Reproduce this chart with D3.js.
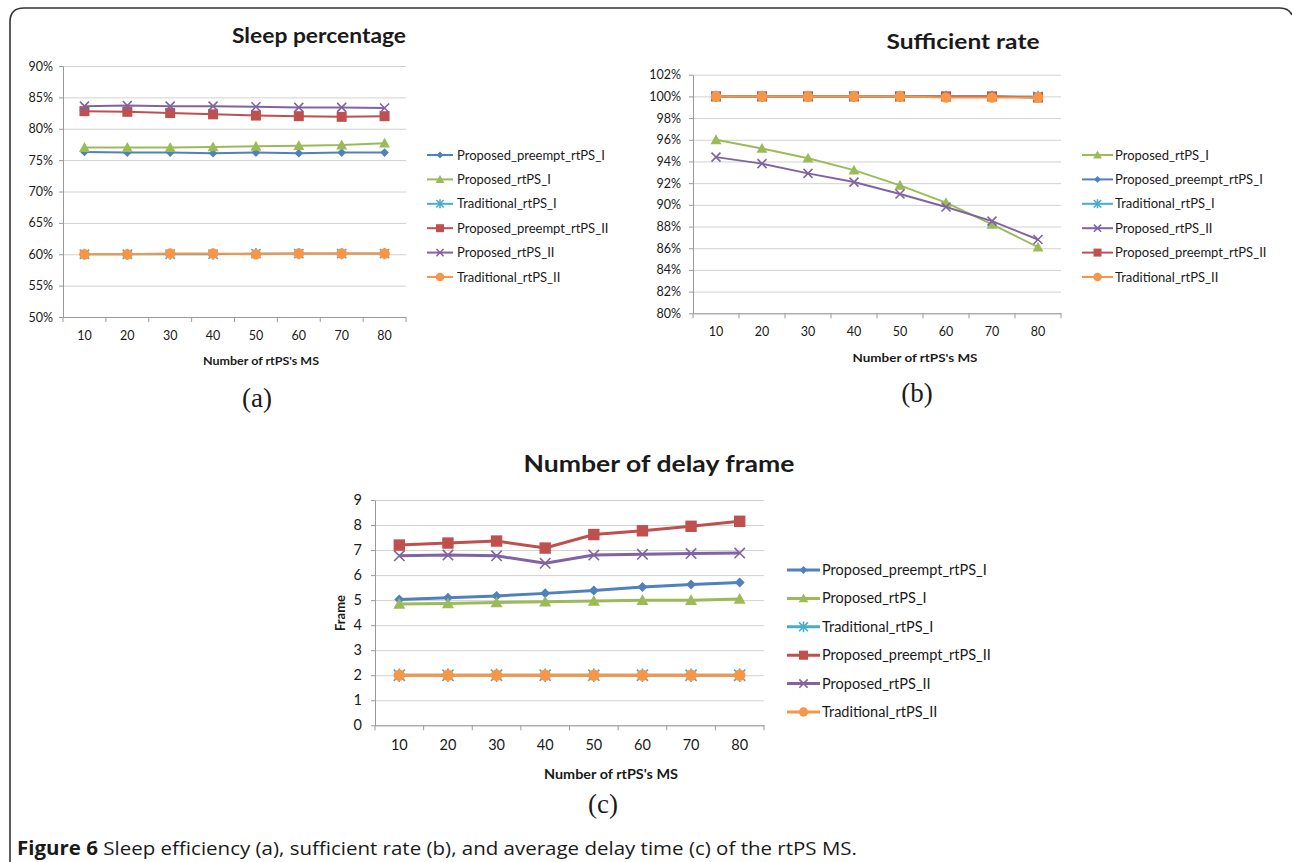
<!DOCTYPE html>
<meta charset="utf-8">
<style>
body {
	margin: 0;
	padding: 0;
	background: #fff;
}
svg {
	display: block;
}
text {
	font-family: Lato, "Open Sans", sans-serif;
	fill: #1a1a1a;
}
.grid line {
	stroke: #d2d2d2;
}
.grid .domain {
	display: none;
}
.title, .axis-title {
	font-weight: bold;
}
.panel-label {
	font-family: "Liberation Serif", "DejaVu Serif", serif;
}
.caption {
	font-family: "Open Sans", Lato, sans-serif;
}
</style>
<body>
<svg id="fig" width="1292" height="862"></svg>
<script src="https://cdn.jsdelivr.net/npm/d3@7/dist/d3.min.js"></script>
<script>
// categories (number of rtPS MS)
var cats = [10, 20, 30, 40, 50, 60, 70, 80];

// (a) sleep percentage, in %
var sleepPreemptI  = [76.3, 76.2, 76.2, 76.1, 76.2, 76.1, 76.2, 76.2];
var sleepPropI     = [77.0, 77.0, 77.0, 77.1, 77.2, 77.3, 77.4, 77.7];
var sleepTradI     = [60.0, 60.0, 60.0, 60.0, 60.1, 60.1, 60.1, 60.1];
var sleepPreemptII = [82.8, 82.7, 82.5, 82.3, 82.1, 82.0, 81.9, 82.0];
var sleepPropII    = [83.6, 83.7, 83.6, 83.6, 83.5, 83.4, 83.4, 83.3];
var sleepTradII    = [60.0, 60.0, 60.1, 60.1, 60.0, 60.1, 60.1, 60.1];
var sleepTicks = [50, 55, 60, 65, 70, 75, 80, 85, 90];

// (b) sufficient rate, in %
var suffPropI     = [96.0, 95.2, 94.3, 93.2, 91.8, 90.2, 88.2, 86.1];
var suffPreemptI  = [100, 100, 100, 100, 100, 100, 100, 99.9];
var suffTradI     = [100, 100, 100, 100, 100, 100, 100, 100];
var suffPropII    = [94.4, 93.8, 92.9, 92.1, 91.0, 89.8, 88.5, 86.8];
var suffPreemptII = [100, 100, 100, 100, 100, 100, 100, 99.9];
var suffTradII    = [100, 100, 100, 100, 100, 99.9, 99.9, 99.9];
var suffTicks = [80, 82, 84, 86, 88, 90, 92, 94, 96, 98, 100, 102];

// (c) number of delay frame
var delayPreemptI  = [5.03, 5.1, 5.17, 5.27, 5.38, 5.52, 5.62, 5.7];
var delayPropI     = [4.85, 4.87, 4.91, 4.94, 4.97, 5.0, 5.0, 5.05];
var delayTradI     = [2, 2, 2, 2, 2, 2, 2, 2];
var delayPreemptII = [7.2, 7.28, 7.36, 7.08, 7.62, 7.77, 7.95, 8.15];
var delayPropII    = [6.77, 6.8, 6.77, 6.47, 6.8, 6.83, 6.86, 6.88];
var delayTradII    = [2, 2, 2, 2, 2, 2, 2, 2];
var delayTicks = [0, 1, 2, 3, 4, 5, 6, 7, 8, 9];

var styles = {
	"Proposed_preempt_rtPS_I":  {color: "#4F81BD", marker: "diamond"},
	"Proposed_rtPS_I":          {color: "#9BBB59", marker: "triangle"},
	"Traditional_rtPS_I":       {color: "#4BACC6", marker: "asterisk"},
	"Proposed_preempt_rtPS_II": {color: "#C0504D", marker: "square"},
	"Proposed_rtPS_II":         {color: "#8064A2", marker: "x"},
	"Traditional_rtPS_II":      {color: "#F79646", marker: "circle"}
};

var svg = d3.select("#fig");

svg.append("rect").attr("width", 1292).attr("height", 862).attr("fill", "#fff");

// frame round the figure
svg.append("path")
	.attr("d", "M10,862 V22 Q10,8 24,8 H1280 Q1289,8 1292,15")
	.attr("fill", "none")
	.attr("stroke", "#333")
	.attr("stroke-width", 1.6);

// marker path of half size r
function markerPath(type, r) {
	switch (type) {
		case "diamond": return "M0," + (-r) + "L" + r + ",0L0," + r + "L" + (-r) + ",0Z";
		case "triangle": return "M0," + (-r) + "L" + r + "," + (r * 0.8) + "L" + (-r) + "," + (r * 0.8) + "Z";
		case "square": return "M" + (-r) + "," + (-r) + "h" + (2 * r) + "v" + (2 * r) + "h" + (-2 * r) + "Z";
		case "circle": return "M" + r + ",0A" + r + "," + r + " 0 1,1 " + (-r) + ",0A" + r + "," + r + " 0 1,1 " + r + ",0Z";
		case "x": return "M" + (-r) + "," + (-r) + "L" + r + "," + r + "M" + r + "," + (-r) + "L" + (-r) + "," + r;
		case "asterisk": return "M" + (-r) + "," + (-r) + "L" + r + "," + r + "M" + r + "," + (-r) + "L" + (-r) + "," + r + "M0," + (-r * 1.2) + "L0," + (r * 1.2);
	}
}

function addMarker(sel, type, color, r) {
	var stroked = (type === "x" || type === "asterisk");
	return sel.append("path")
		.attr("d", markerPath(type, stroked ? r * 0.9 : r))
		.attr("fill", stroked ? "none" : color)
		.attr("stroke", stroked ? color : "none")
		.attr("stroke-width", stroked ? 1.6 : 0);
}

function drawChart(c) {
	var g = svg.append("g");

	var x = d3.scaleBand().domain(cats).range([c.left, c.right]);
	var y = d3.scaleLinear().domain([c.ticks[0], c.ticks[c.ticks.length - 1]]).range([c.bottom, c.top]);
	var cx = function(d, i) { return x(cats[i]) + x.bandwidth() / 2; };

	// gridlines
	g.append("g")
		.attr("class", "grid")
		.attr("transform", "translate(" + c.left + ",0)")
		.call(d3.axisLeft(y).tickValues(c.ticks).tickSize(-(c.right - c.left)).tickFormat(""));

	// y axis
	var ya = g.append("g")
		.attr("transform", "translate(" + c.left + ",0)")
		.call(d3.axisLeft(y).tickValues(c.ticks).tickSize(4).tickPadding(c.yPad).tickFormat(c.fmt).tickSizeOuter(0));
	ya.selectAll("line, .domain").attr("stroke", "#9a9a9a");
	ya.selectAll("text").attr("font-family", null).attr("font-size", c.tickFs).attr("fill", "#1a1a1a");

	// x axis
	var xa = g.append("g")
		.attr("transform", "translate(0," + c.bottom + ")")
		.call(d3.axisBottom(x).tickSize(0).tickPadding(c.xPad).tickSizeOuter(0));
	xa.select(".domain").attr("stroke", "#9a9a9a");
	xa.selectAll("text").attr("font-family", null).attr("font-size", c.tickFs).attr("fill", "#1a1a1a");
	// Excel style ticks between categories
	xa.selectAll(".sep")
		.data(cats.map(function(d) { return x(d); }).concat([c.right]))
		.enter().append("line")
		.attr("x1", function(d) { return d; })
		.attr("x2", function(d) { return d; })
		.attr("y1", 0)
		.attr("y2", 5)
		.attr("stroke", "#9a9a9a");

	// series
	var line = d3.line().x(cx).y(function(d) { return y(d); });
	c.series.forEach(function(s) {
		var st = styles[s.name];
		g.append("path")
			.datum(s.values)
			.attr("fill", "none")
			.attr("stroke", st.color)
			.attr("stroke-width", c.lineW)
			.attr("d", line);
		g.selectAll(null)
			.data(s.values)
			.enter().append("g")
			.attr("transform", function(d, i) { return "translate(" + cx(d, i) + "," + y(d) + ")"; })
			.each(function() { addMarker(d3.select(this), st.marker, st.color, c.markR[st.marker]); });
	});

	// legend
	var lg = g.append("g");
	c.series.forEach(function(s, i) {
		var st = styles[s.name];
		var ly = c.leg.y0 + i * c.leg.step;
		lg.append("line")
			.attr("x1", c.leg.x1).attr("x2", c.leg.x2)
			.attr("y1", ly).attr("y2", ly)
			.attr("stroke", st.color)
			.attr("stroke-width", c.lineW);
		var m = lg.append("g").attr("transform", "translate(" + ((c.leg.x1 + c.leg.x2) / 2) + "," + ly + ")");
		addMarker(m, st.marker, st.color, c.markR[st.marker] * 0.8);
		lg.append("text")
			.attr("x", c.leg.tx).attr("y", ly)
			.attr("dy", "0.35em")
			.attr("font-size", c.leg.fs)
			.text(s.name);
	});

	// titles
	g.append("text")
		.attr("class", "title")
		.attr("x", c.title.x).attr("y", c.title.y)
		.attr("dy", "0.35em")
		.attr("text-anchor", "middle")
		.attr("font-size", c.title.fs)
		.attr("textLength", c.title.w)
		.attr("lengthAdjust", "spacingAndGlyphs")
		.text(c.title.text);

	g.append("text")
		.attr("class", "axis-title")
		.attr("x", c.xTitle.x).attr("y", c.xTitle.y)
		.attr("dy", "0.35em")
		.attr("text-anchor", "middle")
		.attr("font-size", c.xTitle.fs)
		.attr("textLength", c.xTitle.w)
		.attr("lengthAdjust", "spacingAndGlyphs")
		.text("Number of rtPS's MS");

	if (c.yTitle) {
		g.append("text")
			.attr("class", "axis-title")
			.attr("transform", "translate(" + c.yTitle.x + "," + c.yTitle.y + ") rotate(-90)")
			.attr("dy", "0.35em")
			.attr("text-anchor", "middle")
			.attr("font-size", c.yTitle.fs)
			.text(c.yTitle.text);
	}

	g.append("text")
		.attr("class", "panel-label")
		.attr("x", c.panel.x).attr("y", c.panel.y)
		.attr("dy", "0.35em")
		.attr("text-anchor", "middle")
		.attr("font-size", 27)
		.text(c.panel.text);
}

var pct = function(d) { return d + "%"; };
var smallMarks = {diamond: 4.3, triangle: 5.5, square: 5, circle: 5.3, x: 5, asterisk: 5.2};
var bigMarks = {diamond: 5, triangle: 6, square: 5.7, circle: 5.8, x: 5.8, asterisk: 6.2};

drawChart({
	left: 63, right: 406, top: 66, bottom: 317,
	ticks: sleepTicks, fmt: pct, yPad: 6, xPad: 14, tickFs: 12.5,
	lineW: 2, markR: smallMarks,
	series: [
		{name: "Proposed_preempt_rtPS_I", values: sleepPreemptI},
		{name: "Proposed_rtPS_I", values: sleepPropI},
		{name: "Traditional_rtPS_I", values: sleepTradI},
		{name: "Proposed_preempt_rtPS_II", values: sleepPreemptII},
		{name: "Proposed_rtPS_II", values: sleepPropII},
		{name: "Traditional_rtPS_II", values: sleepTradII}
	],
	leg: {x1: 427, x2: 453, tx: 457, y0: 155, step: 24.4, fs: 13},
	title: {text: "Sleep percentage", x: 319, y: 36, fs: 20, w: 174},
	xTitle: {x: 261, y: 361, fs: 11.5, w: 116},
	panel: {text: "(a)", x: 257, y: 398}
});

drawChart({
	left: 693, right: 1061, top: 74.7, bottom: 313.3,
	ticks: suffTicks, fmt: pct, yPad: 8, xPad: 14, tickFs: 12.5,
	lineW: 2, markR: smallMarks,
	series: [
		{name: "Proposed_rtPS_I", values: suffPropI},
		{name: "Proposed_preempt_rtPS_I", values: suffPreemptI},
		{name: "Traditional_rtPS_I", values: suffTradI},
		{name: "Proposed_rtPS_II", values: suffPropII},
		{name: "Proposed_preempt_rtPS_II", values: suffPreemptII},
		{name: "Traditional_rtPS_II", values: suffTradII}
	],
	leg: {x1: 1082, x2: 1113, tx: 1115, y0: 155, step: 24.4, fs: 13},
	title: {text: "Sufficient rate", x: 963, y: 42, fs: 20, w: 153},
	xTitle: {x: 915, y: 358, fs: 12, w: 125},
	panel: {text: "(b)", x: 917, y: 393}
});

drawChart({
	left: 375, right: 764, top: 500, bottom: 725.3,
	ticks: delayTicks, fmt: d3.format("d"), yPad: 9, xPad: 14, tickFs: 14.5,
	lineW: 3, markR: bigMarks,
	series: [
		{name: "Proposed_preempt_rtPS_I", values: delayPreemptI},
		{name: "Proposed_rtPS_I", values: delayPropI},
		{name: "Traditional_rtPS_I", values: delayTradI},
		{name: "Proposed_preempt_rtPS_II", values: delayPreemptII},
		{name: "Proposed_rtPS_II", values: delayPropII},
		{name: "Traditional_rtPS_II", values: delayTradII}
	],
	leg: {x1: 787, x2: 820, tx: 822, y0: 570, step: 28.4, fs: 14.5},
	title: {text: "Number of delay frame", x: 659, y: 464, fs: 23, w: 271},
	xTitle: {x: 611, y: 775, fs: 12.5, w: 134},
	yTitle: {text: "Frame", x: 340, y: 613, fs: 13},
	panel: {text: "(c)", x: 603, y: 804}
});

// caption
var cap = svg.append("text")
	.attr("class", "caption")
	.attr("x", 17).attr("y", 848)
	.attr("dy", "0.35em")
	.attr("font-size", 19)
	.attr("textLength", 840)
	.attr("lengthAdjust", "spacingAndGlyphs");
cap.append("tspan").attr("font-weight", "bold").text("Figure 6");
cap.append("tspan").text(" Sleep efficiency (a), sufficient rate (b), and average delay time (c) of the rtPS MS.");
</script>
</body>
